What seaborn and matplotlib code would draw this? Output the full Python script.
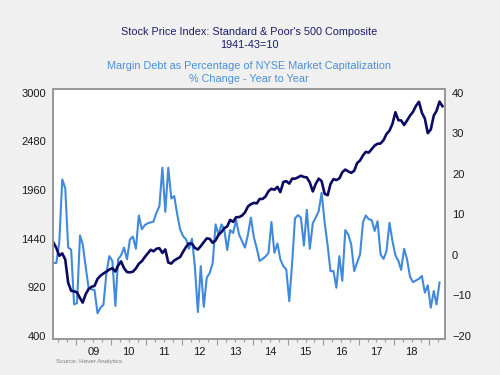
import numpy as np
import pandas as pd
import matplotlib
matplotlib.use("Agg")
import matplotlib.pyplot as plt
import seaborn as sns
from matplotlib.ticker import FixedLocator, FuncFormatter

# S&P 500, monthly average, May 2008 - May 2019
sp500 = [1400, 1341, 1257, 1282, 1217, 969, 883, 878,
         866, 805, 757, 848, 902, 926, 936, 1010, 1045, 1068, 1088, 1110,
         1124, 1089, 1152, 1197, 1125, 1083, 1080, 1087, 1122, 1172, 1199, 1242,
         1283, 1321, 1305, 1332, 1338, 1287, 1325, 1185, 1174, 1207, 1226, 1243,
         1301, 1353, 1389, 1386, 1341, 1324, 1360, 1403, 1443, 1438, 1395, 1422,
         1480, 1512, 1551, 1571, 1640, 1619, 1669, 1670, 1687, 1720, 1784, 1808,
         1822, 1817, 1864, 1864, 1890, 1947, 1973, 1962, 1993, 1937, 2045, 2054,
         2028, 2082, 2080, 2095, 2112, 2099, 2094, 2040, 1944, 2025, 2081, 2054,
         1919, 1904, 2022, 2076, 2066, 2084, 2149, 2178, 2158, 2143, 2165, 2247,
         2275, 2330, 2367, 2359, 2395, 2434, 2454, 2456, 2493, 2557, 2594, 2664,
         2790, 2705, 2703, 2654, 2702, 2754, 2794, 2858, 2902, 2786, 2723, 2567,
         2607, 2755, 2804, 2904, 2855]

# margin debt as % of NYSE market cap, % change y/y, May 2008 - Apr 2019
margin = [-2, -2, 3, 18.6, 16.4, 1.8, 1.3, -12.2, -11.9, 4.8, 2.6, -3,
          -8.2, -8.5, -8.7, -14.4, -13, -12.3, -4.4, -0.3, -1.5, -12.6, -1.1, -0.1,
          1.8, -1.1, 3.8, 4.5, 1.5, 9.7, 6.3, 7.3, 7.8, 8, 8.2, 10.4,
          12, 21.5, 10.6, 21.5, 13.9, 14.5, 10, 6.3, 4.6, 3.8, 1.5, 4,
          -2.8, -14.1, -2.8, -12.8, -5.6, -4.5, -2, 7.5, 5, 7.5, 6.3, 1.2,
          6.1, 5.4, 8.6, 5, 3.4, 1.8, 5, 9.2, 4.3, 1.5, -1.5, -1,
          -0.4, 0.5, 8.1, 0.5, 2.8, -1.1, -2.8, -3.6, -11.4, -1.5, 9, 9.8,
          9.2, 2.3, 11.1, 1.5, 7.8, 9.2, 10.8, 15.3, 8, 2.3, -4, -4,
          -8.1, -0.3, -6.4, 6.1, 5, 2.6, -4, -1.9, 0.1, 8.1, 9.7, 8.8,
          8.6, 5.9, 8.3, 0.1, -1, 0.9, 7.9, 3.5, -0.1, -1.5, -3.7, 1.5,
          -1.1, -5.4, -6.7, -6.3, -5.9, -5.2, -9.3, -7.5, -13, -8.9, -12.2, -6.8]

left_ticks = [400, 920, 1440, 1960, 2480, 3000]
right_ticks = [-20, -10, 0, 10, 20, 30, 40]
years = list(range(2009, 2020))
labelled_years = list(range(2009, 2019))

months = pd.date_range("2008-05-01", periods=len(sp500), freq="MS") + pd.Timedelta(days=14)
t = np.array(months.year + (months.dayofyear - 1) / 365.25)
df_sp = pd.DataFrame({"t": t, "v": sp500})
df_md = pd.DataFrame({"t": t[:len(margin)], "v": margin})

plt.rcParams['font.family'] = ['Liberation Sans', 'DejaVu Sans']

dark = "#0b0b66"
light = "#4189dd"

fig = plt.figure(figsize=(5, 3.75), dpi=100, facecolor="#f0f0f0")
ax = fig.add_axes([0.106, 0.096, 0.784, 0.667])
ax2 = ax.twinx()

sns.lineplot(data=df_md, x="t", y="v", ax=ax2, color=light, lw=1.5)
sns.lineplot(data=df_sp, x="t", y="v", ax=ax, color=dark, lw=1.9)

# dark line over light one
ax.set_zorder(ax2.get_zorder() + 1)
ax.patch.set_visible(False)
ax2.patch.set_visible(True)
ax2.patch.set_facecolor("white")

lo, hi = 368, 3040
ax.set_ylim(lo, hi)
ax2.set_ylim(-20 + (lo - 400) * 60 / 2600, -20 + (hi - 400) * 60 / 2600)
ax.set_xlim(2008.36, 2019.44)

ax.set_yticks(left_ticks)
ax2.set_yticks(right_ticks)
for a in (ax, ax2):
    a.set_xlabel("")
    a.set_ylabel("")
    a.tick_params(axis="y", length=0, labelsize=8, labelcolor="#1a1a1a", pad=5)
    for s in a.spines.values():
        s.set_color("#999999")
        s.set_linewidth(1.3)

ax.xaxis.set_major_locator(FixedLocator(years))
ax.xaxis.set_major_formatter(FuncFormatter(lambda v, p: ""))
minor = [y + q / 4 for y in range(2008, 2020) for q in (1, 2, 3)]
minor = [m for m in minor if 2008.36 < m < 2019.44]
ax.xaxis.set_minor_locator(FixedLocator(minor))


def year_label(v, p):
    y = int(v)
    if abs(v - y - 0.5) < 0.01 and y in labelled_years:
        return "%02d" % (y % 100)
    return ""


ax.xaxis.set_minor_formatter(FuncFormatter(year_label))
ax.tick_params(axis="x", which="major", length=4, color="#999999", width=0.8)
ax.tick_params(axis="x", which="minor", length=2.5, color="#999999", width=0.8,
               labelsize=8, labelcolor="#1a1a1a", pad=3.2)
ax2.tick_params(axis="x", length=0)

fig.text(0.498, 0.915, "Stock Price Index: Standard & Poor's 500 Composite",
         ha="center", va="center", fontsize=7.8, color="#1c1c6e")
fig.text(0.498, 0.881, "1941-43=10", ha="center", va="center", fontsize=7.8, color="#1c1c6e")
fig.text(0.498, 0.824, "Margin Debt as Percentage of NYSE Market Capitalization",
         ha="center", va="center", fontsize=7.8, color="#4a90d9")
fig.text(0.498, 0.788, "% Change - Year to Year", ha="center", va="center",
         fontsize=7.8, color="#4a90d9")
fig.text(0.113, 0.037, "Source: Haver Analytics", ha="left", va="center",
         fontsize=4.5, color="#808080")

fig.savefig("out.png", dpi=100, facecolor=fig.get_facecolor())
